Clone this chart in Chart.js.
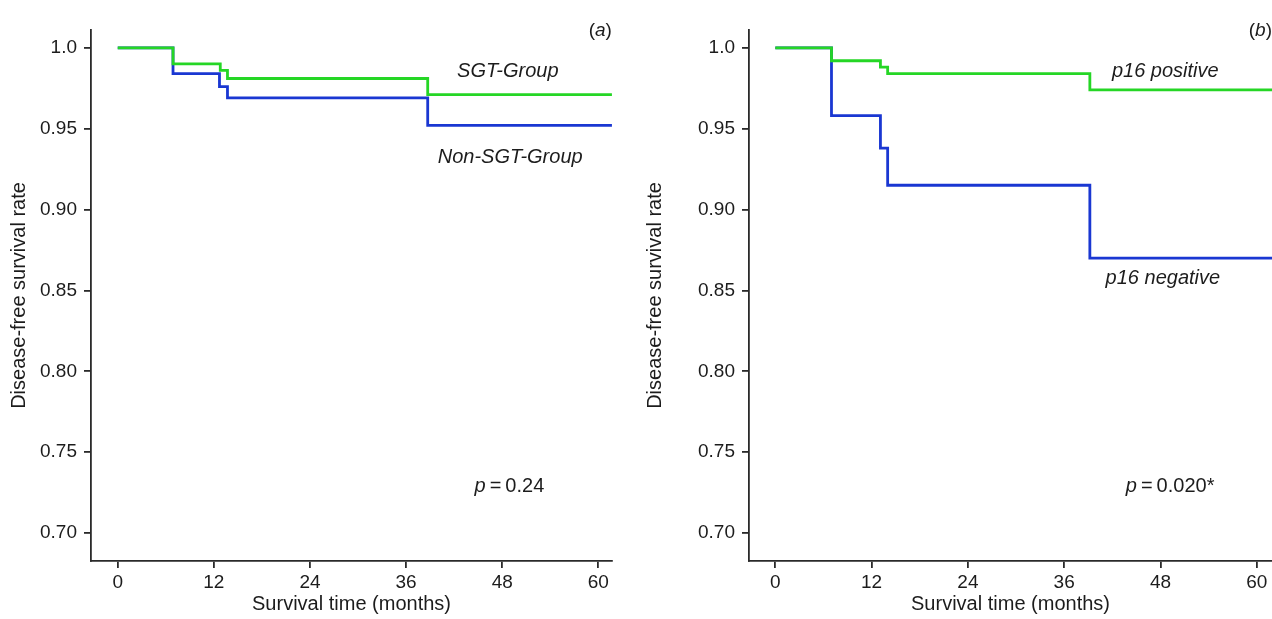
<!DOCTYPE html>
<html>
<head>
<meta charset="utf-8">
<script src="https://cdn.jsdelivr.net/npm/chart.js@4/dist/chart.umd.min.js"></script>
<style>
  body { margin: 0; background: #fff; }
  .wrap { display: flex; width: 1272px; height: 619px; }
  canvas { display: block; }
</style>
</head>
<body>
<div class="wrap">
  <canvas id="chartA" width="636" height="619"></canvas>
  <canvas id="chartB" width="636" height="619"></canvas>
</div>
<script>
// panel (a): SGT vs non-SGT
const sgtTimes = [0, 6.9, 12.8, 13.7, 38.7, 61.7];
const sgtRates = [1.0, 0.990, 0.986, 0.981, 0.971, 0.971];
const nonSgtTimes = [0, 6.9, 12.7, 13.7, 38.7, 61.7];
const nonSgtRates = [1.0, 0.984, 0.976, 0.969, 0.952, 0.952];

// panel (b): p16 status
const posTimes = [0, 7.0, 13.1, 14.0, 39.2, 61.9];
const posRates = [1.0, 0.992, 0.988, 0.984, 0.974, 0.974];
const negTimes = [0, 7.0, 13.1, 14.0, 39.2, 61.9];
const negRates = [1.0, 0.958, 0.938, 0.915, 0.870, 0.870];

const xTicks = [0, 12, 24, 36, 48, 60];
const yTicks = [0.70, 0.75, 0.80, 0.85, 0.90, 0.95, 1.0];

const FONT = '"Liberation Sans", Arial, sans-serif';
const GREEN = '#25d625';
const BLUE = '#1a37d2';
const INK = '#1c1c1c';

function toPoints(xs, ys) {
    return xs.map((x, i) => ({ x: x, y: ys[i] }));
}

// text labels drawn in data coordinates
const textPlugin = {
    id: 'kmText',
    afterDraw(chart, args, opts) {
        const ctx = chart.ctx;
        const xs = chart.scales.x, ys = chart.scales.y;
        ctx.save();
        ctx.fillStyle = INK;
        ctx.textBaseline = 'middle';
        opts.labels.forEach(l => {
            const px = xs.getPixelForValue(l.x);
            const py = ys.getPixelForValue(l.y);
            // each label is a list of [text, italic] pieces, centred as a whole
            const parts = l.parts.map(p => ({ t: p[0], f: (p[1] ? 'italic ' : '') + l.size + 'px ' + FONT }));
            let w = 0;
            parts.forEach(p => { ctx.font = p.f; p.w = ctx.measureText(p.t).width; w += p.w; });
            let cx = l.align === 'right' ? px - w : px - w / 2;
            ctx.textAlign = 'left';
            parts.forEach(p => { ctx.font = p.f; ctx.fillText(p.t, cx, py); cx += p.w; });
        });
        ctx.restore();
    }
};

function makeChart(id, series, xRange, yAxisWidth, rightPad, labels) {
    const ctx = document.getElementById(id).getContext('2d');
    return new Chart(ctx, {
        type: 'line',
        data: {
            datasets: series.map(s => ({
                data: toPoints(s.times, s.rates),
                borderColor: s.color,
                borderWidth: 2.8,
                pointRadius: 0,
                stepped: 'before',
                fill: false
            }))
        },
        options: {
            responsive: false,
            animation: false,
            layout: { padding: { left: 0, top: 30, right: rightPad, bottom: 0 } },
            plugins: {
                legend: { display: false },
                tooltip: { enabled: false },
                kmText: { labels: labels }
            },
            scales: {
                x: {
                    type: 'linear',
                    min: xRange[0],
                    max: xRange[1],
                    afterBuildTicks: s => { s.ticks = xTicks.map(v => ({ value: v })); },
                    afterFit: s => { s.height = 58; },
                    ticks: { color: INK, font: { family: FONT, size: 19 }, padding: 3, maxRotation: 0 },
                    grid: { drawOnChartArea: false, drawTicks: true, tickLength: 7, color: '#2a2a2a', lineWidth: 1.8 },
                    border: { display: true, color: '#2a2a2a', width: 1.8 },
                    title: { display: true, text: 'Survival time (months)', color: INK,
                             font: { family: FONT, size: 20 }, padding: { top: 0, bottom: 3 } }
                },
                y: {
                    type: 'linear',
                    min: 0.6827,
                    max: 1.011,
                    afterBuildTicks: s => { s.ticks = yTicks.map(v => ({ value: v })); },
                    afterFit: s => { s.width = yAxisWidth; },
                    ticks: {
                        color: INK,
                        font: { family: FONT, size: 19 },
                        padding: 7,
                        callback: v => (v === 1 ? '1.0' : v.toFixed(2))
                    },
                    grid: { drawOnChartArea: false, drawTicks: true, tickLength: 7, color: '#2a2a2a', lineWidth: 1.8 },
                    border: { display: true, color: '#2a2a2a', width: 1.8 },
                    title: { display: true, text: 'Disease-free survival rate', color: INK,
                             font: { family: FONT, size: 20 }, padding: { top: 7, bottom: 0 } }
                }
            }
        },
        plugins: [textPlugin]
    });
}

document.addEventListener('DOMContentLoaded', function() {
    makeChart('chartA',
        [
            { times: sgtTimes, rates: sgtRates, color: GREEN },
            { times: nonSgtTimes, rates: nonSgtRates, color: BLUE }
        ],
        [-3.34, 61.71], 91, 24,
        [
            { x: 61.7, y: 1.0108, size: 19, align: 'right', parts: [['(', false], ['a', true], [')', false]] },
            { x: 48.7, y: 0.9856, size: 20, parts: [['SGT-Group', true]] },
            { x: 49.0, y: 0.9324, size: 20, parts: [['Non-SGT-Group', true]] },
            { x: 48.9, y: 0.7285, size: 20, parts: [['p', true], ['\u2009=\u20090.24', false]] }
        ]);

    makeChart('chartB',
        [
            { times: posTimes, rates: posRates, color: GREEN },
            { times: negTimes, rates: negRates, color: BLUE }
        ],
        [-3.28, 61.9], 113, 0,
        [
            { x: 61.9, y: 1.0108, size: 19, align: 'right', parts: [['(', false], ['b', true], [')', false]] },
            { x: 48.6, y: 0.9853, size: 20, parts: [['p16 positive', true]] },
            { x: 48.3, y: 0.8577, size: 20, parts: [['p16 negative', true]] },
            { x: 49.2, y: 0.7285, size: 20, parts: [['p', true], ['\u2009=\u20090.020*', false]] }
        ]);
});
</script>
</body>
</html>
